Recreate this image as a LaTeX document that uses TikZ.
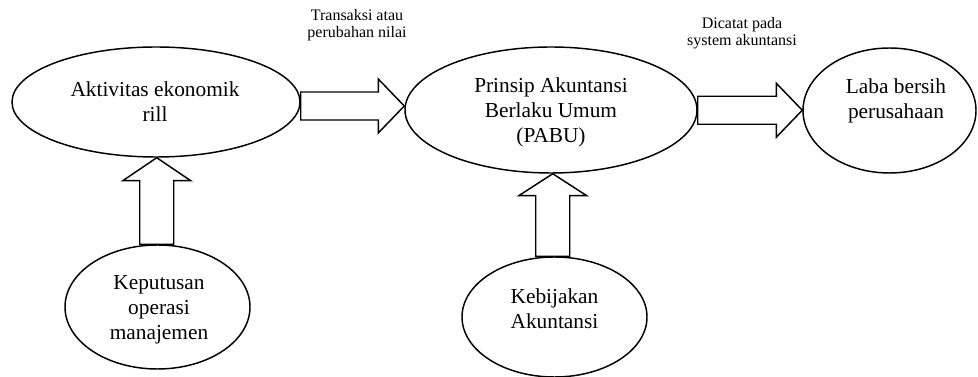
\documentclass[tikz,border=0pt]{standalone}
\usepackage{fontspec}
\setmainfont{Liberation Serif}
\usetikzlibrary{shapes.geometric,calc}
\tikzset{every picture/.style={line width=1.1pt}}
\tikzset{
	oval/.style={draw, ellipse, inner sep=0pt},
	bigtext/.style={align=center, inner sep=0pt, font=\fontsize{16}{18.75}\selectfont},
	smalltext/.style={align=center, inner sep=0pt, font=\fontsize{12}{13}\selectfont}}

\begin{document}
\begin{tikzpicture}[x=0.75pt,y=0.75pt,yscale=-1,xscale=1]
	\useasboundingbox (0,0) rectangle (978,377);

	%Shape: Ellipse [aktivitas]
	\node [oval, minimum width=216pt, minimum height=82.5pt] (aktivitas) at (156,102) {};
	%Shape: Ellipse [prinsip]
	\node [oval, minimum width=219pt, minimum height=94.5pt] (prinsip) at (551,110) {};
	%Shape: Ellipse [laba]
	\node [oval, minimum width=129.75pt, minimum height=93.75pt] (laba) at (889.5,110.5) {};
	%Shape: Ellipse [keputusan]
	\node [oval, minimum width=138.75pt, minimum height=93pt] (keputusan) at (157.5,307) {};
	%Shape: Ellipse [kebijakan]
	\node [oval, minimum width=138.75pt, minimum height=90pt] (kebijakan) at (554.5,317) {};

	%Shape: Right Arrow [aktivitas -> prinsip]
	\coordinate (mA) at ($(aktivitas.east)!0.5!(prinsip.west)$);
	\coordinate (aTail) at (aktivitas.east |- mA);
	\coordinate (aTip) at (prinsip.west |- mA);
	\draw (aTail) ++(0,-14) -- ($(aTip)+(-26,-14)$) -- ++(0,-13) -- (aTip) -- ++(-26,27) -- ++(0,-13) -- ($(aTail)+(0,14)$) -- cycle;
	%Shape: Right Arrow [prinsip -> laba]
	\coordinate (mB) at ($(prinsip.east)!0.5!(laba.west)$);
	\coordinate (bTail) at (prinsip.east |- mB);
	\coordinate (bTip) at (laba.west |- mB);
	\draw (bTail) ++(0,-14) -- ($(bTip)+(-26,-14)$) -- ++(0,-13) -- (bTip) -- ++(-26,27) -- ++(0,-13) -- ($(bTail)+(0,14)$) -- cycle;
	%Shape: Up Arrow [keputusan -> aktivitas]
	\coordinate (mC) at ($(keputusan.north)!0.5!(aktivitas.south)$);
	\coordinate (cTail) at (mC |- keputusan.north);
	\coordinate (cTip) at (mC |- aktivitas.south);
	\draw (cTail) ++(-17,0) -- ($(cTip)+(-17,23)$) -- ++(-17,0) -- (cTip) -- ++(34,23) -- ++(-17,0) -- ($(cTail)+(17,0)$) -- cycle;
	%Shape: Up Arrow [kebijakan -> prinsip]
	\coordinate (mD) at ($(kebijakan.north)!0.5!(prinsip.south)$);
	\coordinate (dTail) at (mD |- kebijakan.north);
	\coordinate (dTip) at (mD |- prinsip.south);
	\draw (dTail) ++(-17,0) -- ($(dTip)+(-17,22)$) -- ++(-17,0) -- (dTip) -- ++(34,22) -- ++(-17,0) -- ($(dTail)+(17,0)$) -- cycle;

	% Text Node
	\node [bigtext] (tAktivitas) at (155,102) {Aktivitas ekonomik\\rill};
	% Text Node
	\node [bigtext] (tPrinsip) at (551,112) {Prinsip Akuntansi\\Berlaku Umum\\(PABU)};
	% Text Node
	\node [bigtext] (tLaba) at (896,101) {Laba bersih\\perusahaan};
	% Text Node
	\node [bigtext] (tKeputusan) at (159,310) {Keputusan\\operasi\\manajemen};
	% Text Node
	\node [bigtext] (tKebijakan) at (554.5,309) {Kebijakan\\Akuntansi};
	% Text Node
	\node [smalltext] (tTransaksi) at (357,25) {Transaksi atau\\perubahan nilai};
	% Text Node
	\node [smalltext] (tDicatat) at (742,33.5) {Dicatat pada\\system akuntansi};

\end{tikzpicture}
\end{document}
